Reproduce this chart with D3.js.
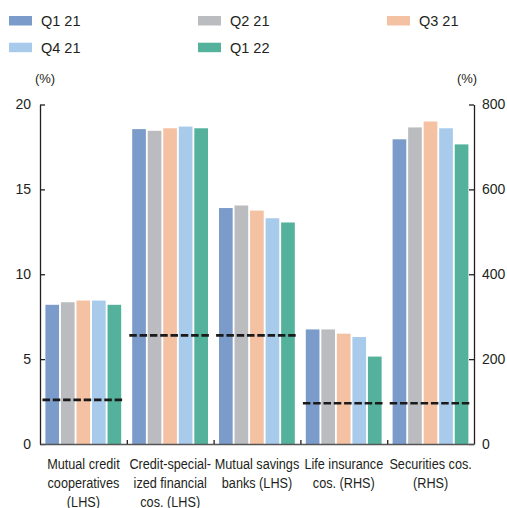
<!DOCTYPE html>
<html>
<head>
<meta charset="utf-8">
<script src="https://cdn.jsdelivr.net/npm/d3@7"></script>
<style>
  html, body { margin: 0; padding: 0; background: #fff; }
  svg { display: block; }
  .legend text { font-family: "Liberation Sans", Arial, sans-serif; font-size: 14.5px; fill: #231f20; }
  .tick text { font-family: "Liberation Sans", Arial, sans-serif; font-size: 14px; fill: #231f20; }
  .unit { font-family: "Liberation Sans", Arial, sans-serif; font-size: 13px; fill: #231f20; }
  .cat { font-family: "Liberation Sans", Arial, sans-serif; font-size: 15px; fill: #231f20; }
</style>
</head>
<body>
<svg id="chart" width="507" height="508"></svg>
<script>
// Institution groups, which axis each one is read against, and label lines
const categories = ["mcc", "csfc", "msb", "life", "sec"];
const categoryLabels = [
  ["Mutual credit", "cooperatives", "(LHS)"],
  ["Credit-special-", "ized financial", "cos. (LHS)"],
  ["Mutual savings", "banks (LHS)"],
  ["Life insurance", "cos. (RHS)"],
  ["Securities cos.", "(RHS)"]
];
const categoryAxis = ["LHS", "LHS", "LHS", "RHS", "RHS"];

// Quarters
const series = ["Q1 21", "Q2 21", "Q3 21", "Q4 21", "Q1 22"];
const seriesColors = ["#7b9bca", "#bbbcc0", "#f4c2a2", "#a8caeb", "#54b29c"];

// Ratios per quarter (%), LHS for the first three groups, RHS for the last two
const q1_21 = [8.2, 18.55, 13.9, 270, 718];
const q2_21 = [8.35, 18.45, 14.05, 270, 746];
const q3_21 = [8.45, 18.6, 13.75, 260, 760];
const q4_21 = [8.45, 18.7, 13.3, 252, 744];
const q1_22 = [8.2, 18.6, 13.05, 206, 706];
const seriesValues = [q1_21, q2_21, q3_21, q4_21, q1_22];

// Regulatory minimum per group (dashed line)
const minimums = [2.6, 6.4, 6.4, 96, 96];

// Axis ticks
const leftTicks = [0, 5, 10, 15, 20];
const rightTicks = [0, 200, 400, 600, 800];

const svg = d3.select("#chart");
const plotLeft = 40, plotRight = 474, plotTop = 104.5, plotBottom = 444;

const x0 = d3.scaleBand().domain(categories).range([plotLeft, plotRight]).padding(0);
const x1 = d3.scaleBand().domain(series).range([5.4, 81.2]).paddingInner(0.12);
const yL = d3.scaleLinear().domain([0, 20]).range([plotBottom, plotTop]);
const yR = d3.scaleLinear().domain([0, 800]).range([plotBottom, plotTop]);
const yFor = i => categoryAxis[i] === "LHS" ? yL : yR;

// Bars
const groups = svg.append("g").selectAll("g")
  .data(categories)
  .join("g")
  .attr("transform", d => `translate(${x0(d)},0)`);

groups.selectAll("rect")
  .data((c, i) => series.map((s, j) => ({ s, j, v: seriesValues[j][i], y: yFor(i) })))
  .join("rect")
  .attr("x", d => x1(d.s))
  .attr("width", x1.bandwidth())
  .attr("y", d => d.y(d.v))
  .attr("height", d => plotBottom - d.y(d.v))
  .attr("fill", d => seriesColors[d.j]);

// Minimum requirement dashed lines
svg.append("g").selectAll("line")
  .data(categories)
  .join("line")
  .attr("x1", d => x0(d) + 2.5)
  .attr("x2", d => x0(d) + x0.bandwidth() - 2.5)
  .attr("y1", (d, i) => yFor(i)(minimums[i]))
  .attr("y2", (d, i) => yFor(i)(minimums[i]))
  .attr("stroke", "#1a1a1a")
  .attr("stroke-width", 2.6)
  .attr("stroke-dasharray", "7.5,2.8");

// Left axis
const axL = svg.append("g").attr("transform", `translate(${plotLeft},0)`)
  .call(d3.axisLeft(yL).tickValues(leftTicks).tickSizeInner(-5).tickSizeOuter(0).tickPadding(9));
// Right axis
const axR = svg.append("g").attr("transform", `translate(${plotRight},0)`)
  .call(d3.axisRight(yR).tickValues(rightTicks).tickSizeInner(-5).tickSizeOuter(0).tickPadding(8));
// Bottom axis with group separators
const xb = d3.scaleLinear().domain([0, categories.length]).range([plotLeft, plotRight]);
const axB = svg.append("g").attr("transform", `translate(0,${plotBottom})`)
  .call(d3.axisBottom(xb).tickValues(d3.range(1, categories.length)).tickSizeInner(-4).tickSizeOuter(0).tickFormat(""));

[axL, axR, axB].forEach(a => {
  a.select(".domain").attr("stroke", "#231f20").attr("stroke-width", 1.3);
  a.selectAll(".tick line").attr("stroke", "#231f20").attr("stroke-width", 1.3);
});
axB.select(".domain").attr("stroke", "#555");

// Units
svg.append("text").attr("class", "unit").attr("x", 45).attr("y", 82.5).attr("text-anchor", "middle").text("(%)");
svg.append("text").attr("class", "unit").attr("x", 467).attr("y", 82.5).attr("text-anchor", "middle").text("(%)");

// Category labels, set in a horizontally condensed face
svg.append("g").selectAll("text")
  .data(categories)
  .join("text")
  .attr("class", "cat")
  .attr("text-anchor", "middle")
  .attr("transform", d => `translate(${x0(d) + x0.bandwidth() / 2},469) scale(0.845,1)`)
  .selectAll("tspan")
  .data((d, i) => categoryLabels[i])
  .join("tspan")
  .attr("x", 0)
  .attr("dy", (d, k) => k === 0 ? 0 : 18.8)
  .text(d => d);

// Legend
const legendPos = [[9, 16], [198, 16], [387, 16], [9, 42.7], [198, 42.7]];
const legend = svg.append("g").attr("class", "legend").selectAll("g")
  .data(series)
  .join("g")
  .attr("transform", (d, i) => `translate(${legendPos[i][0]},${legendPos[i][1]})`);
legend.append("rect").attr("width", 23).attr("height", 9.5).attr("fill", (d, i) => seriesColors[i]);
legend.append("text").attr("x", 32).attr("y", 10.3).text(d => d);
</script>
</body>
</html>
